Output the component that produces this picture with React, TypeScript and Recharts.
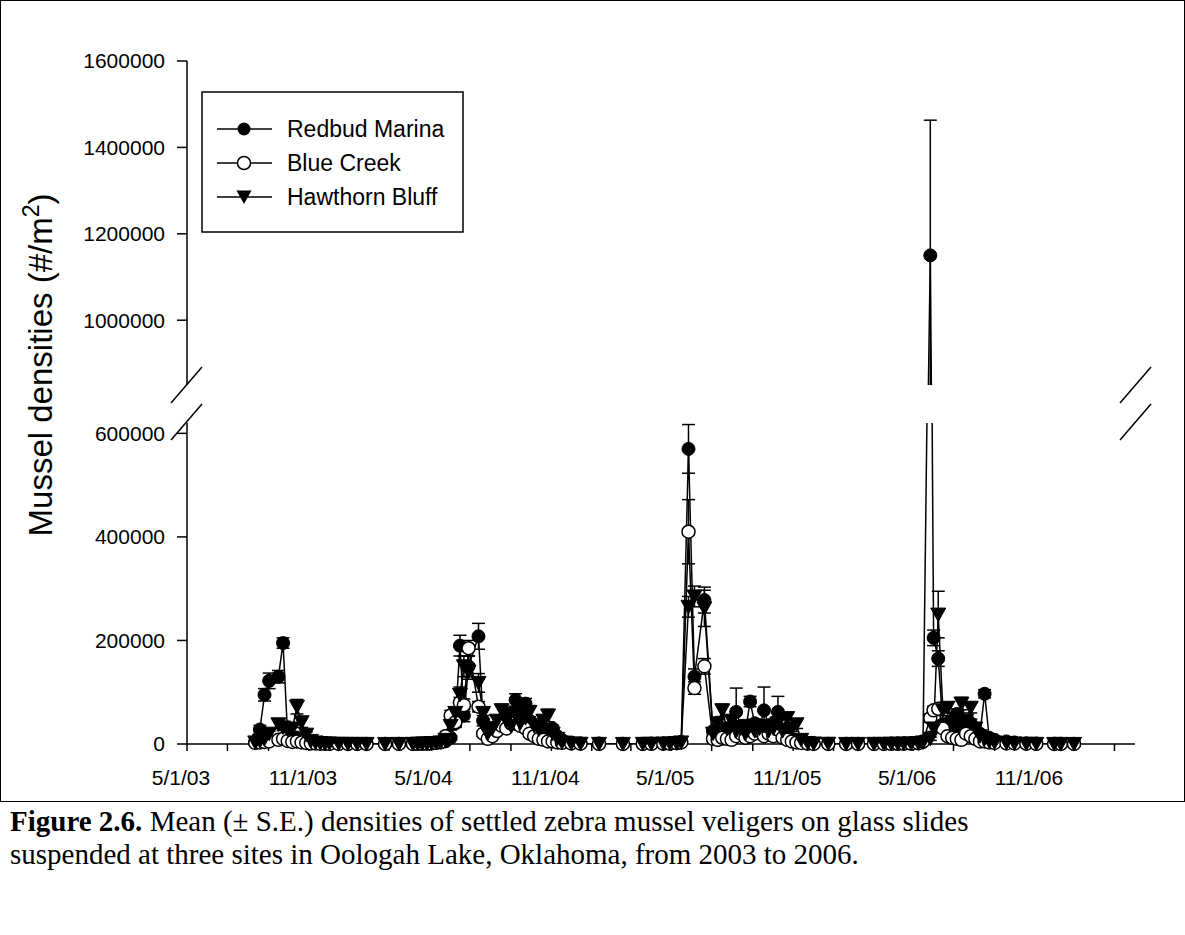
import React from 'react';
import { LineChart, Line, XAxis, YAxis, ErrorBar } from 'recharts';

const FONT = '"Liberation Sans", Arial, Helvetica, sans-serif';

// sampling dates (slides retrieved), grouped by season
const sampleDates = [
  '2003-08-12', '2003-08-19', '2003-08-26', '2003-09-02', '2003-09-16', '2003-09-23', '2003-09-30', '2003-10-07', '2003-10-14', '2003-10-21', '2003-10-28', '2003-11-04',
  '2003-11-11', '2003-11-18', '2003-11-25', '2003-12-02', '2003-12-16', '2003-12-30', '2004-01-13', '2004-01-27', '2004-02-24', '2004-03-16', '2004-04-06', '2004-04-13', '2004-04-20', '2004-04-27', '2004-05-04', '2004-05-11', '2004-05-18', '2004-05-25',
  '2004-06-02', '2004-06-09', '2004-06-16', '2004-06-22', '2004-06-29', '2004-07-14', '2004-07-21', '2004-07-28', '2004-08-04', '2004-08-11', '2004-08-18', '2004-08-25', '2004-09-01', '2004-09-08', '2004-09-15', '2004-09-23', '2004-09-29', '2004-10-06', '2004-10-13', '2004-10-20', '2004-10-27', '2004-11-03', '2004-11-10', '2004-11-17',
  '2004-12-01', '2004-12-15', '2005-01-12', '2005-02-17', '2005-03-19', '2005-04-01', '2005-04-19', '2005-04-29', '2005-05-09', '2005-05-16',
  '2005-05-27', '2005-06-05', '2005-06-20', '2005-07-03', '2005-07-10', '2005-07-17', '2005-07-24', '2005-07-31', '2005-08-07', '2005-08-14', '2005-08-21', '2005-08-28', '2005-09-04', '2005-09-11', '2005-09-18', '2005-09-25', '2005-10-02', '2005-10-09', '2005-10-16', '2005-10-23', '2005-10-30', '2005-11-06',
  '2005-11-13', '2005-11-23', '2005-12-02', '2005-12-24', '2006-01-20', '2006-02-07', '2006-03-03', '2006-03-18', '2006-03-29', '2006-04-08', '2006-04-17', '2006-04-28', '2006-05-09', '2006-05-16',
  '2006-05-27', '2006-06-01', '2006-06-08', '2006-06-15', '2006-06-22', '2006-06-29', '2006-07-06', '2006-07-13', '2006-07-20', '2006-07-27', '2006-08-03', '2006-08-10', '2006-08-17', '2006-08-24',
  '2006-09-01', '2006-09-19', '2006-10-01', '2006-10-19', '2006-11-03', '2006-11-30', '2006-12-10', '2006-12-30',
];

// Redbud Marina mean and S.E. (#/m2)
const redbud = [
  4000, 28000, 95000, 122000, 130000, 195000, 15000, 10000, 12000, 8000, 5000, 3000,
  2000, 1000, 1000, 500, 500, 300, 200, 200, 100, 200, 300, 500, 800, 1000, 1500, 2000, 3000, 5000,
  12000, 40000, 190000, 55000, 150000, 208000, 45000, 12000, 20000, 35000, 45000, 55000, 60000, 85000, 70000, 78000, 45000, 38000, 20000, 30000, 25000, 30000, 15000, 8000,
  3000, 1000, 500, 300, 300, 500, 800, 1000, 2000, 4000,
  570000, 130000, 278000, 25000, 8000, 10000, 30000, 20000, 62000, 35000, 25000, 82000, 40000, 30000, 65000, 35000, 40000, 62000, 20000, 15000, 10000, 5000,
  3000, 1000, 500, 300, 200, 200, 300, 300, 500, 500, 800, 1000, 2000, 4000,
  1150000, 205000, 165000, 38000, 30000, 45000, 58000, 30000, 35000, 40000, 25000, 20000, 97000, 12000,
  8000, 5000, 3000, 1000, 500, 300, 200, 100,
];
const redbudSE = [
  1500, 8000, 12000, 15000, 12000, 10000, 4000, 3000, 3000, 2500, 2000, 1000,
  800, 500, 500, 300, 300, 200, 100, 100, 100, 100, 200, 300, 400, 500, 800, 1000, 1500, 2000,
  4000, 8000, 20000, 12000, 20000, 25000, 10000, 4000, 5000, 8000, 10000, 10000, 10000, 12000, 12000, 10000, 8000, 8000, 5000, 6000, 5000, 6000, 4000, 2500,
  1000, 500, 300, 200, 200, 300, 400, 500, 1000, 1500,
  47000, 15000, 25000, 6000, 2500, 3000, 8000, 5000, 46000, 8000, 6000, 10000, 8000, 6000, 45000, 8000, 8000, 30000, 5000, 4000, 3000, 2000,
  1000, 500, 300, 200, 100, 100, 200, 200, 300, 300, 400, 500, 1000, 1500,
  313000, 15000, 15000, 8000, 6000, 8000, 10000, 6000, 6000, 8000, 5000, 5000, 8000, 4000,
  2500, 2000, 1000, 500, 300, 200, 100, 100,
];

// Blue Creek mean and S.E.
const blueCreek = [
  2000, 3000, 4000, 5000, 8000, 10000, 6000, 4000, 5000, 3000, 2000, 1000,
  1000, 500, 500, 300, 200, 200, 100, 100, 100, 100, 200, 300, 500, 800, 1000, 2000, 4000, 15000,
  55000, 42000, 80000, 75000, 185000, 72000, 20000, 10000, 15000, 25000, 35000, 30000, 40000, 45000, 35000, 30000, 20000, 15000, 10000, 8000, 5000, 5000, 3000, 2000,
  1000, 500, 300, 200, 200, 300, 500, 800, 1500, 3000,
  410000, 108000, 150000, 10000, 8000, 12000, 10000, 8000, 15000, 20000, 12000, 15000, 20000, 25000, 15000, 20000, 15000, 28000, 12000, 8000, 5000, 3000,
  2000, 500, 300, 200, 100, 100, 200, 200, 300, 400, 500, 800, 1500, 5000,
  50000, 65000, 68000, 30000, 15000, 12000, 10000, 8000, 20000, 15000, 10000, 5000, 5000, 3000,
  2000, 1000, 1000, 500, 300, 200, 100, 100,
];
const blueCreekSE = [
  1000, 1500, 1500, 2000, 2500, 3000, 2000, 1500, 2000, 1500, 1000, 500,
  500, 300, 300, 200, 100, 100, 100, 100, 100, 100, 100, 200, 300, 400, 500, 1000, 1500, 4000,
  10000, 8000, 10000, 12000, 15000, 10000, 5000, 3000, 4000, 6000, 8000, 6000, 8000, 8000, 6000, 6000, 5000, 4000, 3000, 2000, 2000, 2000, 1000, 1000,
  500, 300, 200, 100, 100, 200, 300, 400, 800, 1500,
  62000, 12000, 15000, 3000, 2500, 3000, 3000, 2500, 4000, 5000, 3000, 4000, 5000, 6000, 4000, 5000, 4000, 6000, 3000, 2500, 2000, 1000,
  1000, 300, 200, 100, 100, 100, 100, 100, 200, 200, 300, 400, 800, 2000,
  8000, 8000, 8000, 5000, 4000, 3000, 3000, 2500, 5000, 4000, 3000, 2000, 2000, 1000,
  1000, 500, 500, 300, 200, 100, 100, 100,
];

// Hawthorn Bluff mean and S.E.
const hawthorn = [
  3000, 6000, 10000, 20000, 38000, 32000, 28000, 30000, 72000, 42000, 18000, 6000,
  3000, 2000, 1000, 1000, 500, 300, 200, 200, 100, 200, 300, 400, 600, 1000, 1500, 2000, 3000, 8000,
  35000, 60000, 95000, 150000, 140000, 118000, 60000, 20000, 30000, 45000, 65000, 45000, 35000, 55000, 40000, 50000, 62000, 35000, 28000, 45000, 55000, 20000, 10000, 3000,
  1000, 500, 300, 200, 300, 500, 800, 1000, 2000, 3000,
  265000, 285000, 262000, 20000, 40000, 65000, 30000, 45000, 25000, 30000, 20000, 35000, 25000, 30000, 35000, 25000, 30000, 40000, 25000, 50000, 30000, 38000,
  8000, 2000, 1000, 500, 200, 200, 300, 300, 500, 500, 800, 1000, 1500, 3000,
  10000, 30000, 250000, 65000, 70000, 40000, 35000, 78000, 45000, 70000, 30000, 15000, 10000, 5000,
  3000, 2000, 1000, 500, 300, 200, 200, 100,
];
const hawthornSE = [
  1500, 2000, 3000, 5000, 8000, 6000, 6000, 6000, 14000, 10000, 5000, 2000,
  1000, 800, 500, 500, 300, 200, 100, 100, 100, 100, 200, 200, 300, 500, 800, 1000, 1500, 3000,
  8000, 10000, 15000, 20000, 15000, 18000, 12000, 5000, 6000, 8000, 12000, 10000, 8000, 12000, 8000, 12000, 12000, 8000, 6000, 10000, 12000, 5000, 3000, 1000,
  500, 300, 200, 100, 200, 300, 400, 500, 1000, 1500,
  20000, 20000, 35000, 5000, 8000, 12000, 6000, 10000, 6000, 6000, 5000, 8000, 6000, 6000, 8000, 6000, 6000, 8000, 6000, 10000, 6000, 8000,
  3000, 1000, 500, 300, 100, 100, 200, 200, 300, 300, 400, 500, 800, 1500,
  3000, 6000, 45000, 10000, 10000, 8000, 8000, 12000, 8000, 10000, 6000, 4000, 3000, 2000,
  1000, 1000, 500, 300, 200, 100, 100, 100,
];

const xTickDates = [
  '2003-05-01', '2003-07-01', '2003-09-01', '2003-11-01', '2004-01-01', '2004-03-01',
  '2004-05-01', '2004-07-01', '2004-09-01', '2004-11-01', '2005-01-01', '2005-03-01',
  '2005-05-01', '2005-07-01', '2005-09-01', '2005-11-01', '2006-01-01', '2006-03-01',
  '2006-05-01', '2006-07-01', '2006-09-01', '2006-11-01', '2007-01-01', '2007-03-01',
];
const lowerTicks = [0, 200000, 400000, 600000];
const upperTicks = [1000000, 1200000, 1400000, 1600000];

// broken y axis: lower segment 0..620000, upper segment 850000..1600000
const LOW_MAX = 620000;
const HIGH_MIN = 850000;
const HIGH_MAX = 1600000;

const toTime = (s: string) => Date.parse(s + 'T00:00:00Z');
const xDomain = [toTime('2003-05-01'), toTime('2007-04-01')];
const xTicks = xTickDates.map(toTime);

const rows = sampleDates.map((d, i) => ({
  t: toTime(d),
  redbud: redbud[i],
  redbudSE: redbudSE[i],
  blue: blueCreek[i],
  blueSE: blueCreekSE[i],
  hawthorn: hawthorn[i],
  hawthornSE: hawthornSE[i],
}));

// symbols of the lower panel (anything above the break is drawn by the upper panel)
const keepLow = (v: number) => (v <= LOW_MAX ? v : null);
const lowMarkerRows = rows.map((r) => ({
  t: r.t,
  redbud: keepLow(r.redbud),
  blue: keepLow(r.blue),
  hawthorn: keepLow(r.hawthorn),
}));

const fmtDate = (t: number) => {
  const d = new Date(t);
  const m = d.getUTCMonth() + 1;
  if (m !== 5 && m !== 11) return '';
  return `${m}/${d.getUTCDate()}/${String(d.getUTCFullYear()).slice(2)}`;
};

const XTick = (props: any) => {
  const { x, y, payload } = props;
  return (
    <text x={x - 6} y={y} dy="0.71em" textAnchor="middle" fontSize={21} fontFamily={FONT} fill="#000">
      {fmtDate(payload.value)}
    </text>
  );
};

const YTick = (props: any) => {
  const { x, y, payload } = props;
  return (
    <text x={x} y={y} dy="0.355em" textAnchor="end" fontSize={21} fontFamily={FONT} fill="#000">
      {payload.value}
    </text>
  );
};

const TriangleDot = (props: any) => {
  const { cx, cy, index } = props;
  if (typeof cx !== 'number' || typeof cy !== 'number' || isNaN(cy)) return <g key={`h-${index}`} />;
  return (
    <polygon
      key={`h-${index}`}
      points={`${cx - 7.5},${cy - 6.5} ${cx + 7.5},${cy - 6.5} ${cx},${cy + 7}`}
      fill="#000"
      stroke="#000"
      strokeWidth={1}
    />
  );
};

const redDot = { r: 6.5, fill: '#000', stroke: '#000', strokeWidth: 1 };
const blueDot = { r: 6.5, fill: '#fff', stroke: '#000', strokeWidth: 1.5 };

const series = [
  { key: 'redbud', se: 'redbudSE', name: 'Redbud Marina' },
  { key: 'blue', se: 'blueSE', name: 'Blue Creek' },
  { key: 'hawthorn', se: 'hawthornSE', name: 'Hawthorn Bluff' },
];

const W = 1185;
const LOWER_H = 800;
const UPPER_H = 400;
const lowerMargin = { top: 423, right: 50, bottom: 0, left: 107 };
const upperMargin = { top: 61, right: 50, bottom: 15, left: 107 };
const axisLine = { stroke: '#000', strokeWidth: 1.5 };
const abs: React.CSSProperties = { position: 'absolute', left: 0, top: 0 };

const Legend = () => (
  <svg width={264} height={143} style={{ position: 'absolute', left: 201, top: 91 }}>
    <rect x={1} y={1} width={261} height={140} fill="#fff" stroke="#000" strokeWidth={1.5} />
    {series.map((s, i) => {
      const cy = 38 + i * 34;
      return (
        <g key={s.key}>
          <line x1={16} x2={71} y1={cy} y2={cy} stroke="#000" strokeWidth={1.5} />
          {i === 0 && <circle cx={43} cy={cy} r={6.5} fill="#000" />}
          {i === 1 && <circle cx={43} cy={cy} r={6.5} fill="#fff" stroke="#000" strokeWidth={1.5} />}
          {i === 2 && <polygon points={`${35.5},${cy - 6.5} ${50.5},${cy - 6.5} ${43},${cy + 7}`} fill="#000" />}
          <text x={86} y={cy} dy="0.355em" fontSize={23} fontFamily={FONT} fill="#000">
            {s.name}
          </text>
        </g>
      );
    })}
  </svg>
);

export default function App() {
  return (
    <div style={{ position: 'absolute', left: 0, top: 0, width: W, height: 935, background: '#fff', overflow: 'hidden' }}>
      {/* figure frame */}
      <div style={{ position: 'absolute', left: 0, top: 0, width: W, height: 802, border: '1.5px solid #000', boxSizing: 'border-box' }} />

      {/* lower segment: lines and error bars, cut at the axis break */}
      <div style={{ ...abs, clipPath: `inset(${lowerMargin.top}px 0 0 0)` }}>
        <LineChart width={W} height={LOWER_H} data={rows} margin={lowerMargin}>
          <XAxis
            dataKey="t"
            type="number"
            domain={xDomain}
            ticks={xTicks}
            interval={0}
            tick={<XTick />}
            tickSize={7}
            tickMargin={19}
            height={56}
            axisLine={axisLine}
            tickLine={axisLine}
          />
          <YAxis
            yAxisId="l"
            type="number"
            domain={[0, LOW_MAX]}
            allowDataOverflow
            ticks={lowerTicks}
            interval={0}
            tick={<YTick />}
            tickSize={10}
            tickMargin={12}
            width={80}
            axisLine={axisLine}
            tickLine={axisLine}
          />
          <YAxis yAxisId="r" orientation="right" type="number" domain={[0, LOW_MAX]} width={0} tick={false} tickLine={false} axisLine={axisLine} />
          {series.map((s) => (
            <Line key={s.key} yAxisId="l" dataKey={s.key} stroke="#000" strokeWidth={1.5} dot={false} isAnimationActive={false}>
              <ErrorBar dataKey={s.se} direction="y" width={6.5} stroke="#000" strokeWidth={1.5} isAnimationActive={false} />
            </Line>
          ))}
        </LineChart>
      </div>

      {/* lower segment: symbols */}
      <div style={abs}>
        <LineChart width={W} height={LOWER_H} data={lowMarkerRows} margin={lowerMargin}>
          <XAxis dataKey="t" type="number" domain={xDomain} height={56} tick={false} tickLine={false} axisLine={false} />
          <YAxis type="number" domain={[0, LOW_MAX]} width={80} tick={false} tickLine={false} axisLine={false} />
          <Line dataKey="redbud" stroke="none" dot={redDot} isAnimationActive={false} />
          <Line dataKey="blue" stroke="none" dot={blueDot} isAnimationActive={false} />
          <Line dataKey="hawthorn" stroke="none" dot={TriangleDot} isAnimationActive={false} />
        </LineChart>
      </div>

      {/* upper segment, cut at the axis break */}
      <div style={{ ...abs, clipPath: `inset(0 0 ${upperMargin.bottom}px 0)` }}>
        <LineChart width={W} height={UPPER_H} data={rows} margin={upperMargin}>
          <XAxis dataKey="t" type="number" domain={xDomain} orientation="top" height={0} tick={false} tickLine={false} axisLine={axisLine} />
          <YAxis
            yAxisId="l"
            type="number"
            domain={[HIGH_MIN, HIGH_MAX]}
            allowDataOverflow
            ticks={upperTicks}
            interval={0}
            tick={<YTick />}
            tickSize={10}
            tickMargin={12}
            width={80}
            axisLine={axisLine}
            tickLine={axisLine}
          />
          <YAxis yAxisId="r" orientation="right" type="number" domain={[HIGH_MIN, HIGH_MAX]} width={0} tick={false} tickLine={false} axisLine={axisLine} />
          {series.map((s, i) => (
            <Line
              key={s.key}
              yAxisId="l"
              dataKey={s.key}
              stroke="#000"
              strokeWidth={1.5}
              dot={i === 0 ? redDot : i === 1 ? blueDot : TriangleDot}
              isAnimationActive={false}
            >
              <ErrorBar dataKey={s.se} direction="y" width={6.5} stroke="#000" strokeWidth={1.5} isAnimationActive={false} />
            </Line>
          ))}
        </LineChart>
      </div>

      {/* axis breaks and y title */}
      <svg width={W} height={935} style={{ ...abs, pointerEvents: 'none' }}>
        <g stroke="#000" strokeWidth={1.5}>
          <line x1={171} y1={403} x2={202} y2={367} />
          <line x1={171} y1={440} x2={202} y2={404} />
          <line x1={1120} y1={403} x2={1151} y2={367} />
          <line x1={1120} y1={440} x2={1151} y2={404} />
        </g>
        <text transform="translate(52,365) rotate(-90)" textAnchor="middle" fontSize={33} fontFamily={FONT} fill="#000">
          Mussel densities (#/m
          <tspan dy={-13} fontSize={23}>2</tspan>
          <tspan dy={13}>)</tspan>
        </text>
      </svg>

      <Legend />

      <div
        style={{
          position: 'absolute',
          left: 10,
          top: 805,
          width: 1165,
          fontFamily: '"Liberation Serif", "Times New Roman", serif',
          fontSize: 29,
          lineHeight: '33px',
          color: '#000',
        }}
      >
        <b>Figure 2.6.</b> Mean (± S.E.) densities of settled zebra mussel veligers on glass slides
        <br />
        suspended at three sites in Oologah Lake, Oklahoma, from 2003 to 2006.
      </div>
    </div>
  );
}
